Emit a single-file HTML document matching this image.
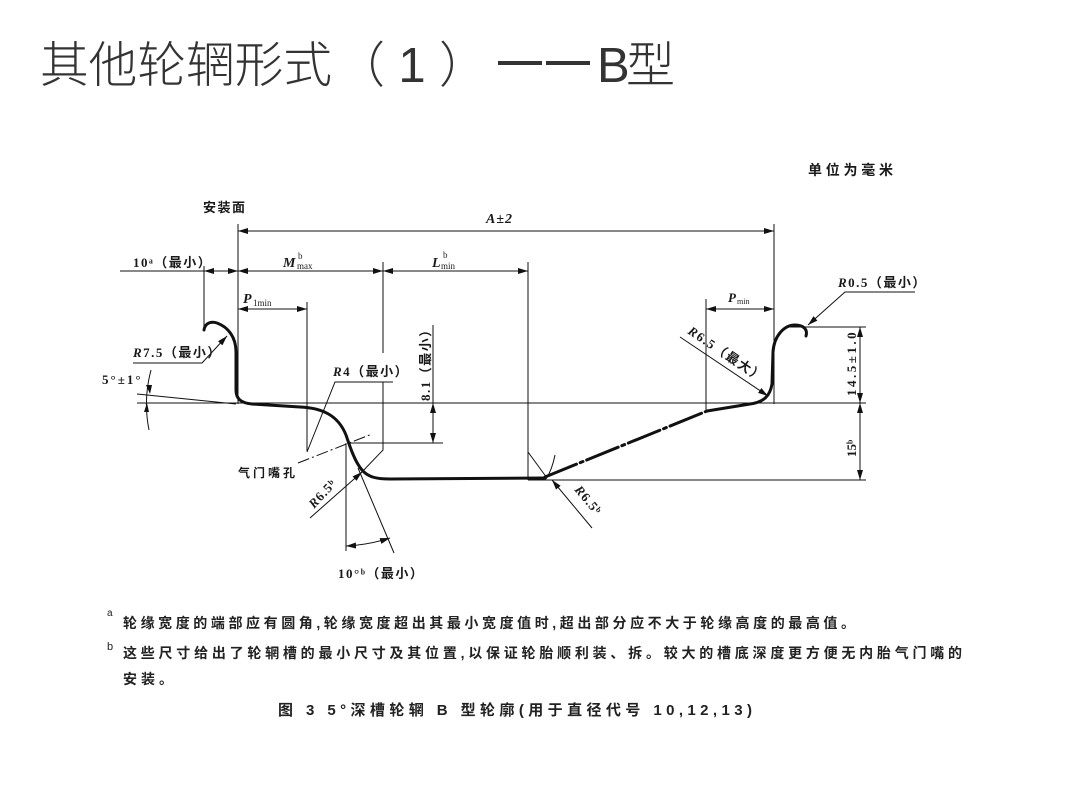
<!DOCTYPE html>
<html>
<head>
<meta charset="utf-8">
<style>
  html,body{margin:0;padding:0;background:#fff;}
  body{width:1076px;height:807px;overflow:hidden;}
  svg{display:block;}
  .t{font-family:"Liberation Sans","Noto Sans CJK SC",sans-serif;fill:#1a1a1a;}
  .s{font-family:"Liberation Serif","Noto Sans CJK SC",serif;fill:#1a1a1a;font-weight:bold;}
  .i{font-family:"Liberation Serif",serif;font-style:italic;fill:#1a1a1a;}
  .ls{letter-spacing:1.5px;}
</style>
</head>
<body>
<svg width="1076" height="807" viewBox="0 0 1076 807" xmlns="http://www.w3.org/2000/svg">
  <defs>
    <marker id="a" markerUnits="userSpaceOnUse" markerWidth="10" markerHeight="7" refX="10" refY="3.5" orient="auto-start-reverse">
      <path d="M0,0.5 L10,3.5 L0,6.5 z" fill="#111"/>
    </marker>
  </defs>

  <!-- Title -->
  <g font-family="'Liberation Sans','Noto Sans CJK SC',sans-serif" font-size="49" fill="#333" font-weight="300">
    <text x="40" y="82" textLength="292" lengthAdjust="spacingAndGlyphs">其他轮辋形式</text>
    <text x="336" y="82" textLength="152" lengthAdjust="spacing">（1）</text>
    <text x="597" y="82" textLength="78" lengthAdjust="spacing">B型</text>
  </g>
  <rect x="498" y="61" width="44" height="4" fill="#333"/>
  <rect x="546" y="61" width="44" height="4" fill="#333"/>

  <!-- top labels -->
  <text class="s" x="808" y="175" font-size="14" textLength="85" lengthAdjust="spacing">单位为毫米</text>
  <text class="s" x="203" y="212" font-size="13" textLength="42" lengthAdjust="spacing">安装面</text>

  <g stroke="#111" stroke-width="1" fill="none">
    <!-- extension lines -->
    <line x1="238" y1="224" x2="238" y2="404"/>
    <line x1="774" y1="224" x2="774" y2="404"/>
    <line x1="204" y1="266" x2="204" y2="330"/>
    <line x1="383" y1="262" x2="383" y2="353"/>
    <line x1="528" y1="262" x2="528" y2="480"/>
    <line x1="307" y1="302" x2="307" y2="451"/>
    <line x1="706" y1="299" x2="706" y2="411"/>
    <line x1="137" y1="403" x2="866" y2="403"/>
    <line x1="137" y1="394" x2="236" y2="404"/>
    <line x1="790" y1="327" x2="866" y2="327"/>
    <line x1="528" y1="480" x2="866" y2="480"/>
    <line x1="347" y1="443" x2="443" y2="443"/>
    <polyline points="383,382 383,450 360,474"/>
    <line x1="346" y1="443" x2="346" y2="551"/>
    <line x1="358" y1="468" x2="394" y2="553"/>
    <line x1="528" y1="452" x2="547" y2="478"/>
    <line x1="298" y1="463" x2="372" y2="434" stroke-dasharray="12 3 2 3"/>
    <line x1="120" y1="271" x2="204" y2="271"/>
    <line x1="433" y1="325" x2="433" y2="403"/>

    <!-- dimension lines -->
    <line x1="238" y1="231" x2="774" y2="231" marker-start="url(#a)" marker-end="url(#a)"/>
    <line x1="204" y1="271" x2="238" y2="271" marker-start="url(#a)" marker-end="url(#a)"/>
    <line x1="238" y1="271" x2="383" y2="271" marker-start="url(#a)" marker-end="url(#a)"/>
    <line x1="383" y1="271" x2="528" y2="271" marker-start="url(#a)" marker-end="url(#a)"/>
    <line x1="238" y1="309" x2="307" y2="309" marker-start="url(#a)" marker-end="url(#a)"/>
    <line x1="706" y1="309" x2="774" y2="309" marker-start="url(#a)" marker-end="url(#a)"/>
    <line x1="433" y1="403" x2="433" y2="443" marker-start="url(#a)" marker-end="url(#a)"/>
    <line x1="860" y1="327" x2="860" y2="403" marker-start="url(#a)" marker-end="url(#a)"/>
    <line x1="860" y1="403" x2="860" y2="480" marker-start="url(#a)" marker-end="url(#a)"/>

    <!-- leaders -->
    <polyline points="133,363 202,363 227,336" marker-end="url(#a)"/>
    <polyline points="915,292 845,292 808,325" marker-end="url(#a)"/>
    <line x1="680" y1="337" x2="768" y2="396" marker-end="url(#a)"/>
    <line x1="310" y1="518" x2="362" y2="472" marker-end="url(#a)"/>
    <line x1="592" y1="528" x2="552" y2="480" marker-end="url(#a)"/>
    <polyline points="393,382 335,382 307,452"/>

    <!-- angle arcs -->
    <path d="M151,370 Q143,400 149,430"/>
    <path d="M346,546 Q368,545 390,538" marker-start="url(#a)" marker-end="url(#a)"/>
    <path d="M555,455 Q552,470 546,479"/>
  </g>
  <!-- 5 deg arrows -->
  <path d="M146,385 L150,394 L152,385 z" fill="#111"/>
  <path d="M144,412 L147,403 L149,412 z" fill="#111"/>

  <!-- profile -->
  <g stroke="#111" stroke-width="3" fill="none" stroke-linecap="round" stroke-linejoin="round">
    <path d="M204,330 C205,323 211,321 217,323 C228,327 236,337 236,352 L236,390 C236,399 241,403 252,404 L300,407 C322,408 338,415 346,435 C350,447 355,462 362,470 C368,477 376,479 390,479 L545,478"/>
    <path d="M545,477 L707,411" stroke-dasharray="34 4 3 4"/>
    <path d="M707,411 L750,404 C764,402 770,396 772,384 L773,352 C774,336 784,325 795,325 C803,325 808,329 806,336"/>
  </g>

  <!-- diagram labels -->
  <g class="s" font-size="13">
    <text x="486" y="223" class="i" font-weight="bold" font-size="14" style="letter-spacing:1px">A±2</text>
    <text x="133" y="267" class="ls">10ᵃ（最小）</text>
    <text x="283" y="267" class="i" font-size="14">M</text>
    <text x="298" y="259" font-size="9" font-weight="normal">b</text>
    <text x="297" y="269" font-size="9" font-weight="normal">max</text>
    <text x="432" y="267" class="i" font-size="14">L</text>
    <text x="443" y="258" font-size="9" font-weight="normal">b</text>
    <text x="441" y="269" font-size="9" font-weight="normal">min</text>
    <text x="243" y="303" class="i" font-size="14">P</text>
    <text x="253" y="306" font-size="9" font-weight="normal">1min</text>
    <text x="728" y="302" class="i" font-size="13">P</text>
    <text x="737" y="304" font-size="8" font-weight="normal">min</text>
    <text x="838" y="287" class="ls"><tspan font-style="italic">R</tspan>0.5（最小）</text>
    <text x="133" y="357" class="ls"><tspan font-style="italic">R</tspan>7.5（最小）</text>
    <text x="102" y="384" style="letter-spacing:2px">5°±1°</text>
    <text x="333" y="376" class="ls"><tspan font-style="italic">R</tspan>4（最小）</text>
    <text x="238" y="477" font-size="12" textLength="57" lengthAdjust="spacing">气门嘴孔</text>
    <text x="338" y="578" class="ls">10°ᵇ（最小）</text>
    <text transform="translate(430,401) rotate(-90)" class="ls">8.1（最小）</text>
    <text transform="translate(856,396) rotate(-90)" style="letter-spacing:2.5px">14.5±1.0</text>
    <text transform="translate(856,457) rotate(-90)">15ᵇ</text>
    <text transform="translate(687,333) rotate(34)" class="ls"><tspan font-style="italic">R</tspan>6.5（最大）</text>
    <text transform="translate(314,509) rotate(-47)" style="letter-spacing:1px"><tspan font-style="italic">R</tspan>6.5ᵇ</text>
    <text transform="translate(574,490) rotate(50)" style="letter-spacing:1px"><tspan font-style="italic">R</tspan>6.5ᵇ</text>
  </g>

  <!-- footnotes -->
  <g class="t" font-size="14" font-weight="bold" style="fill:#222">
    <text x="107" y="616" font-size="10" font-weight="normal">a</text>
    <text x="123" y="628" textLength="732" lengthAdjust="spacing">轮缘宽度的端部应有圆角,轮缘宽度超出其最小宽度值时,超出部分应不大于轮缘高度的最高值。</text>
    <text x="107" y="650" font-size="11" font-weight="normal">b</text>
    <text x="123" y="658" textLength="839" lengthAdjust="spacing">这些尺寸给出了轮辋槽的最小尺寸及其位置,以保证轮胎顺利装、拆。较大的槽底深度更方便无内胎气门嘴的</text>
    <text x="123" y="684" textLength="50" lengthAdjust="spacing">安装。</text>
    <text x="278" y="715" font-size="15" textLength="474" lengthAdjust="spacing">图 3  5°深槽轮辋 B 型轮廓(用于直径代号 10,12,13)</text>
  </g>
</svg>
</body>
</html>
